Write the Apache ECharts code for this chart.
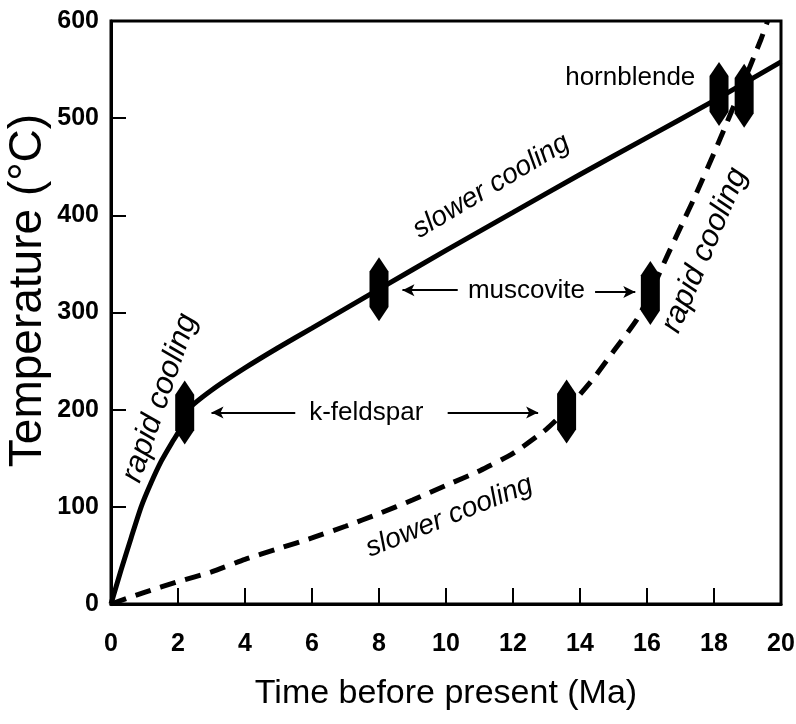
<!DOCTYPE html>
<html><head><meta charset="utf-8">
<script src="https://cdn.jsdelivr.net/npm/echarts@6/dist/echarts.min.js"></script>
<style>html,body{margin:0;padding:0;background:#fff}#c{width:796px;height:724px}</style>
</head><body><div id="c"></div>
<script>
// ---- data ----
const xTicks = [0,2,4,6,8,10,12,14,16,18,20];
const yTicks = [0,100,200,300,400,500,600];
// solid path: rapid then slower cooling (Ma, °C)
const solidPath = [[0,0],[0.3,35],[0.6,68],[0.9,100],[1.2,125],[1.5,147],[1.8,165],[2.1,182],[2.3,200],[3,220],[4,243],[5,264],[6,284],[7,304],[8,324],[10,364],[12,403],[14,442],[16,480],[18,518],[20,558]];
// dashed path: slower then rapid cooling
const dashedPath = [[0,0],[1,12],[2,23],[3,33],[4,46],[5,57],[6,68],[7,80],[8,93],[9,107],[10,122],[11,137],[12,155],[13,180],[13.6,200],[14.4,232],[15,260],[15.7,293],[16.1,320],[16.6,358],[17.1,395],[17.4,417],[18.1,472],[18.8,530],[19.4,581],[19.6,600]];
// mineral closure-age markers
const markerPts = [[2.2,197],[8.0,324],[13.6,198],[16.1,320],[18.15,525],[18.9,523]];
// arrows [fromX, fromY, toX, toY]
const arrowSegs = [[5.5,197,3.0,197],[10.05,197,12.75,197],[10.35,323,8.7,323],[14.45,321,15.65,321]];
// text annotations
const annTexts = ['rapid cooling','slower cooling','k-feldspar','muscovite','slower cooling','rapid cooling','hornblende'];
const annPos = [[1.46,212],[11.35,430],[7.62,197],[12.4,322],[10.1,90],[17.72,364],[15.5,542]];
const annAngle = [71,31,0,0,22,67,0];
const annSize = [31,28,26,26,28,31,26];
const annItalic = [true,true,false,false,true,true,false];

const FONT = "'Liberation Sans',Arial,sans-serif";
const hexPath = 'path://M5,0 L10,8 L10,28 L5,36 L0,28 L0,8 Z';

const chart = echarts.init(document.getElementById('c'));
const option = {
  animation:false,
  backgroundColor:'#fff',
  textStyle:{color:'#000'},
  grid:{left:111,right:15,top:21,bottom:120,show:true,borderColor:'#000',borderWidth:3,
    containLabel:false,outerBoundsMode:'none'},
  xAxis:{type:'value',min:0,max:20,interval:2,
    name:'Time before present (Ma)',nameLocation:'middle',nameGap:73,
    nameTextStyle:{fontFamily:FONT,fontSize:34,color:'#000'},
    axisLine:{lineStyle:{color:'#000',width:3}},
    axisTick:{inside:true,length:16,lineStyle:{color:'#000',width:2}},
    axisLabel:{margin:28,fontFamily:FONT,fontWeight:'bold',fontSize:25,color:'#000',
      formatter:v=>xTicks.includes(v)?String(v):''},
    splitLine:{show:false}},
  yAxis:{type:'value',min:0,max:600,interval:100,
    name:'Temperature (°C)',nameLocation:'middle',nameGap:60,nameRotate:90,nameMoveOverlap:false,
    nameTextStyle:{fontFamily:FONT,fontSize:46,color:'#000',padding:[0,0,0,44]},
    axisLine:{lineStyle:{color:'#000',width:3}},
    axisTick:{inside:true,length:15,lineStyle:{color:'#000',width:2}},
    axisLabel:{margin:12,fontFamily:FONT,fontWeight:'bold',fontSize:25,color:'#000',
      formatter:v=>yTicks.includes(v)?String(v):''},
    splitLine:{show:false}},
  series:[
    {type:'line',data:solidPath,smooth:0.2,symbol:'none',z:3,
      lineStyle:{color:'#000',width:5}},
    {type:'line',data:dashedPath,smooth:0.2,symbol:'none',z:3,
      lineStyle:{color:'#000',width:5,type:[16,10]}},
    {type:'scatter',data:markerPts,symbol:hexPath,symbolSize:[19,64],z:5,
      itemStyle:{color:'#000',opacity:1}},
    {type:'line',data:[],symbol:'none',z:4,
      markLine:{silent:true,symbol:['none','arrow'],symbolSize:[9,12],
        lineStyle:{color:'#000',width:2,type:'solid'},label:{show:false},
        data:arrowSegs.map(a=>[{coord:[a[0],a[1]]},{coord:[a[2],a[3]]}])}},
    {type:'scatter',symbolSize:0,z:6,itemStyle:{color:'#000'},
      data:annTexts.map((t,i)=>({value:annPos[i],
        label:{show:true,position:'inside',formatter:t,rotate:annAngle[i],
          fontFamily:FONT,fontSize:annSize[i],opacity:1,
          fontStyle:annItalic[i]?'italic':'normal',color:'#000000',textBorderWidth:0,textBorderColor:'transparent'}}))}
  ]
};
chart.setOption(option);
</script></body></html>
